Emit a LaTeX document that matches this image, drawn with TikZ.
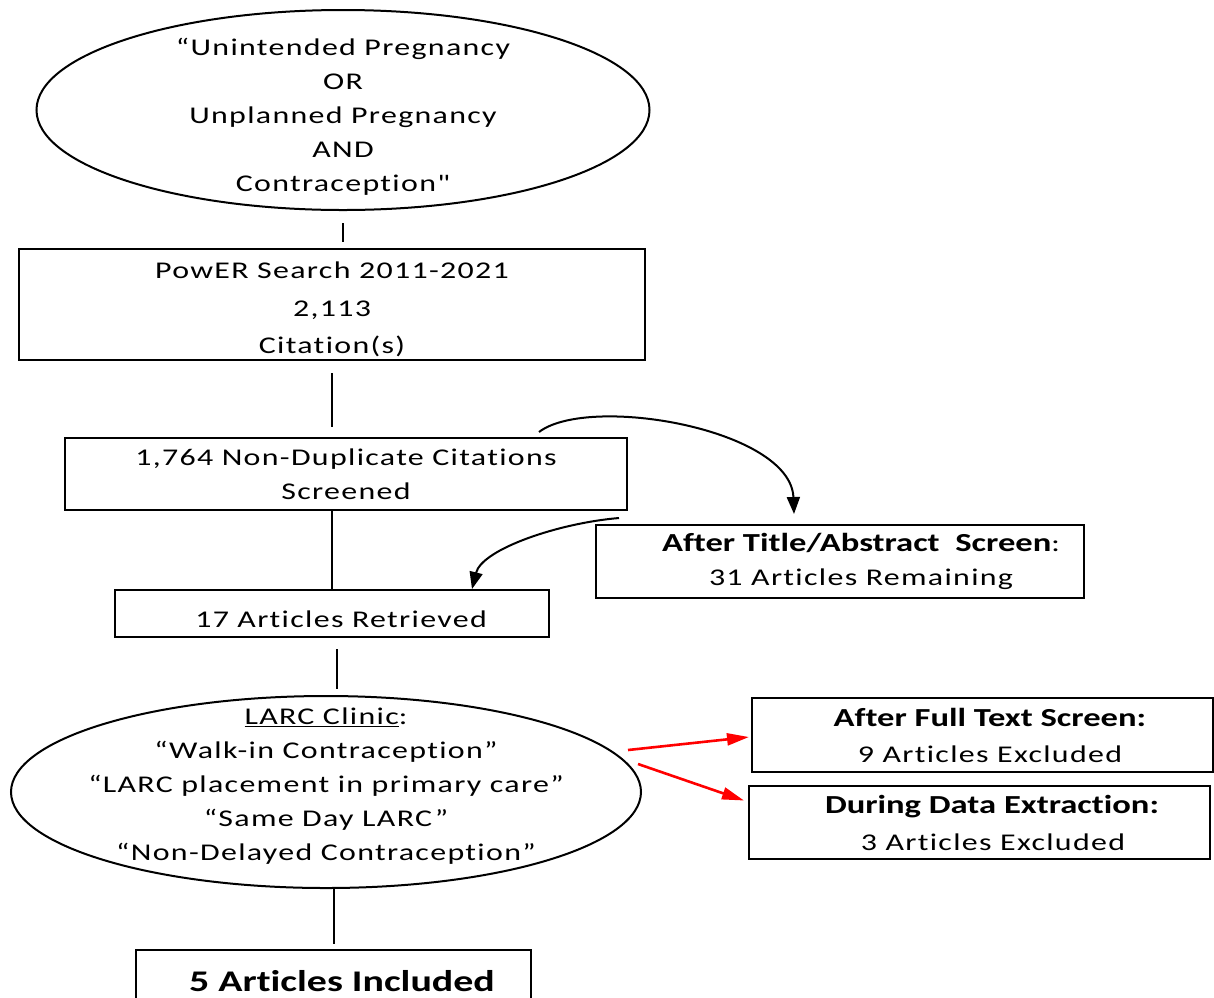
\documentclass[tikz,border=0pt]{standalone}
\usepackage{fontspec}
\setmainfont{Carlito}[Ligatures={TeXOff, CommonOff}, FakeStretch=1.33, LetterSpace=5.5, BoldFeatures={LetterSpace=0}]
\usetikzlibrary{shapes.geometric, arrows.meta}
\newcommand{\hd}[1]{{\fontsize{26}{34}\selectfont\bfseries #1}}
\begin{document}
\begin{tikzpicture}[x=1pt, y=-1pt,
    box/.style={draw, line width=2pt, rectangle, inner sep=0pt, align=center, font=\fontsize{24}{34}\selectfont},
    oval/.style={draw, line width=2pt, ellipse, inner xsep=-30pt, inner ysep=-30pt, align=center, font=\fontsize{24}{34}\selectfont},
    link/.style={line width=2pt},
    blkarrow/.style={line width=2pt, -{Triangle[length=17pt, width=13pt]}},
    redarrow/.style={red, line width=2.6pt, -{Triangle[length=22pt, width=12pt]}}]
    \useasboundingbox (0,0) rectangle (1214,997);
    \fill[white] (0,0) rectangle (1214,997);
    \clip (0,0) rectangle (1214,997);

    \node[oval, minimum width=613pt, minimum height=200pt, text height=167pt] (search) at (343,110)
        {“Unintended Pregnancy\\OR\\Unplanned Pregnancy\\AND\\Contraception"};
    \node[box, minimum width=626pt, minimum height=111pt, text height=102pt] (power) at (332,304.5)
        {PowER Search 2011-2021\\[3.5pt]2,113\\[3.5pt]Citation(s)};
    \node[box, minimum width=562pt, minimum height=72pt] (nondup) at (346,474)
        {1,764 Non-Duplicate Citations\\Screened};
    \node[box, minimum width=434pt, minimum height=47pt, text height=27pt, text depth=0pt] (retrieved) at (332,613.5)
        {\hspace*{18pt}17 Articles Retrieved};
    \node[box, minimum width=488pt, minimum height=73pt] (titleabs) at (840,561.5)
        {\hspace*{42pt}\hd{After Title/Abstract\ \ Screen}:\\\hspace*{42pt}31 Articles Remaining};
    \node[oval, minimum width=630pt, minimum height=192pt, text depth=16pt] (larc) at (326,792)
        {\underline{LARC Clinic}:\\“Walk-in Contraception”\\“LARC placement in primary care”\\“Same Day LARC”\\“Non-Delayed Contraception”};
    \node[box, minimum width=461pt, minimum height=74pt] (fulltext) at (982.5,735)
        {\hspace*{15pt}\hd{After Full Text Screen:}\\[2pt]\hspace*{15pt}9 Articles Excluded};
    \node[box, minimum width=461pt, minimum height=73pt] (extraction) at (979.5,822.5)
        {\hspace*{25pt}\hd{During Data Extraction:}\\[3pt]\hspace*{27pt}3 Articles Excluded};
    \node[box, minimum width=395pt, minimum height=62pt, font=\fontsize{30}{36}\selectfont\bfseries] (included) at (333.5,981)
        {\hspace*{17pt}5 Articles Included};

    \draw[link, shorten <=12pt, shorten >=6pt] (search.south) -- (search.south |- power.north);
    \draw[link, shorten <=12pt, shorten >=10pt] (power.south) -- (power.south |- nondup.north);
    \draw[link] (retrieved.north |- nondup.south) -- (retrieved.north);
    \draw[link, shorten <=11pt, shorten >=6pt] ([xshift=5pt]retrieved.south) -- ([xshift=5pt]retrieved.south |- larc.north);
    \draw[link, shorten >=5pt] (included.north |- larc.south) -- (included.north);

    \draw[blkarrow] ([xshift=-89pt, yshift=5pt]nondup.north east) .. controls +(50,-38) and +(-3,-85) .. ([xshift=-46pt, yshift=10pt]titleabs.north);
    \draw[blkarrow] ([xshift=24pt, yshift=6pt]titleabs.north west) .. controls +(-60,5) and +(10,-40) .. ([xshift=-78pt]retrieved.north east);

    \draw[redarrow] ([xshift=-14pt, yshift=42pt]larc.east) -- ([xshift=-2pt, yshift=-2pt]fulltext.west);
    \draw[redarrow] ([xshift=-4pt, yshift=28pt]larc.east) -- ([xshift=-4pt, yshift=22pt]extraction.west);
\end{tikzpicture}
\end{document}
